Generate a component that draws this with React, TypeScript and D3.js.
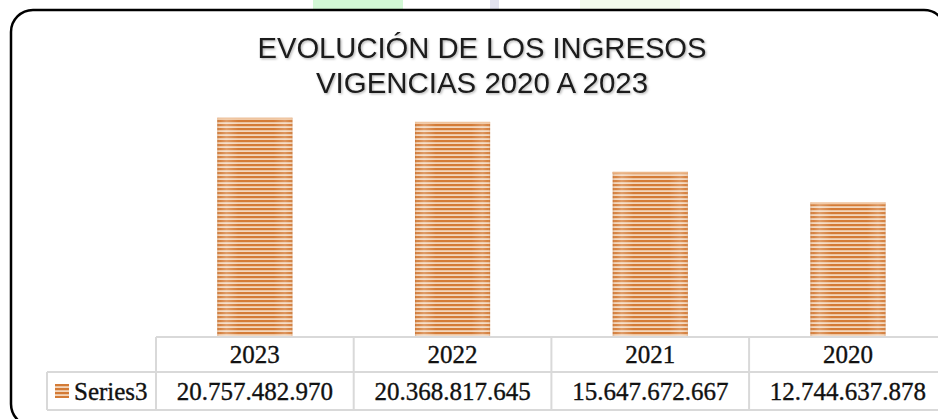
import React from "react";
import * as d3 from "d3";

// chart values
const years = ["2023", "2022", "2021", "2020"];
const ingresos = [20757482970, 20368817645, 15647672667, 12744637878];
const seriesName = "Series3";
const titleLines = ["EVOLUCIÓN DE LOS INGRESOS", "VIGENCIAS 2020 A 2023"];

const W = 938;
const H = 419;

const fmt = d3
  .formatLocale({ decimal: ",", thousands: ".", grouping: [3], currency: ["", ""] })
  .format(",d");

const App = () => {
  // table / plot geometry
  const tableLeft = 156;
  const colW = 197.7;
  const plotBottom = 337;
  const rowMid = 372;
  const rowBottom = 410;
  const legendLeft = 47;

  const x = d3
    .scaleBand()
    .domain(years)
    .range([tableLeft, tableLeft + colW * years.length])
    .paddingInner(0)
    .paddingOuter(0);

  const y = d3.scaleLinear().domain([0, 25e9]).range([plotBottom, 73]);

  const barW = x.bandwidth() * 0.38;
  const serif = "'Liberation Serif', 'Times New Roman', serif";
  const grid = "#d9d9d9";
  const tableRight = x.range()[1];

  return (
    <svg
      width={W}
      height={H}
      style={{ position: "absolute", left: 0, top: 0, background: "#fff" }}
    >
      <defs>
        <pattern id="stripes" width="4" height="4" patternUnits="userSpaceOnUse">
          <rect width="4" height="4" fill="#f3d6bc" />
          <rect width="4" height="2.2" fill="#d47b36" />
        </pattern>
        <linearGradient id="sheen" x1="0" x2="1" y1="0" y2="0">
          <stop offset="0%" stopColor="#a85a20" stopOpacity="0.3" />
          <stop offset="4%" stopColor="#fff" stopOpacity="0.05" />
          <stop offset="12%" stopColor="#fff" stopOpacity="0.25" />
          <stop offset="28%" stopColor="#fff" stopOpacity="0" />
          <stop offset="75%" stopColor="#fff" stopOpacity="0" />
          <stop offset="90%" stopColor="#fff" stopOpacity="0.2" />
          <stop offset="97%" stopColor="#fff" stopOpacity="0.05" />
          <stop offset="100%" stopColor="#a85a20" stopOpacity="0.3" />
        </linearGradient>
        <filter id="shadow" x="-5%" y="-20%" width="110%" height="140%">
          <feDropShadow dx="1.2" dy="1.2" stdDeviation="0.8" floodColor="#000" floodOpacity="0.3" />
        </filter>
      </defs>

      {/* faint page bits above the frame */}
      <rect x={313} y={0} width={90} height={9} fill="#d2f8d5" />
      <rect x={490} y={0} width={9} height={9} fill="#e2e2ef" />
      <rect x={580} y={0} width={100} height={9} fill="#f2faec" />

      {/* outer frame */}
      <rect x={11} y={10} width={935} height={416} rx={22} fill="#fff" stroke="#000" strokeWidth={2.5} />

      {/* title */}
      <g filter="url(#shadow)" fontFamily="'Liberation Sans', Arial, sans-serif" fontSize={30} fill="#1a1a1a" textAnchor="middle">
        <text x={482} y={58} textLength={449} lengthAdjust="spacingAndGlyphs">
          {titleLines[0]}
        </text>
        <text x={482} y={93} textLength={332} lengthAdjust="spacingAndGlyphs">
          {titleLines[1]}
        </text>
      </g>

      {/* bars */}
      {years.map((yr, i) => {
        const bx = (x(yr) as number) + (x.bandwidth() - barW) / 2;
        const by = y(ingresos[i]);
        const bh = plotBottom - by;
        return (
          <g key={yr}>
            <rect x={bx} y={by} width={barW} height={bh} fill="url(#stripes)" />
            <rect x={bx} y={by} width={barW} height={bh} fill="url(#sheen)" />
            <rect x={bx} y={by} width={barW} height={2} fill="#f0c49e" opacity={0.8} />
          </g>
        );
      })}

      {/* data table */}
      <g stroke={grid} strokeWidth={2} fill="none">
        <line x1={tableLeft} x2={tableRight} y1={plotBottom} y2={plotBottom} />
        <line x1={legendLeft} x2={tableRight} y1={rowMid} y2={rowMid} />
        <line x1={legendLeft} x2={tableRight} y1={rowBottom} y2={rowBottom} />
        <line x1={legendLeft} x2={legendLeft} y1={rowMid} y2={rowBottom} />
        {years.map((yr) => (
          <line key={yr} x1={x(yr) as number} x2={x(yr) as number} y1={plotBottom} y2={rowBottom} />
        ))}
      </g>

      <g fontFamily={serif} fontSize={25} fill="#111" stroke="#111" strokeWidth={0.35} textAnchor="middle">
        {years.map((yr, i) => (
          <g key={yr}>
            <text x={(x(yr) as number) + x.bandwidth() / 2} y={363}>
              {yr}
            </text>
            <text x={(x(yr) as number) + x.bandwidth() / 2} y={400}>
              {fmt(ingresos[i])}
            </text>
          </g>
        ))}
      </g>

      {/* legend key */}
      <rect x={55} y={384} width={14} height={14} fill="url(#stripes)" />
      <text x={74} y={400} fontFamily={serif} fontSize={25} fill="#111" stroke="#111" strokeWidth={0.35}>
        {seriesName}
      </text>
    </svg>
  );
};

export default App;
